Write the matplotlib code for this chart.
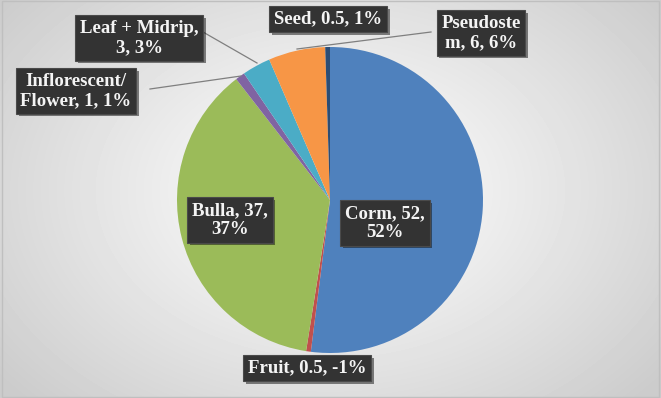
import matplotlib
matplotlib.use("Agg")
import matplotlib.pyplot as plt
import matplotlib.patheffects as pe
import numpy as np

# slice data, clockwise from 12 o'clock
categories = ["Corm", "Fruit", "Bulla", "Inflorescent/Flower", "Leaf + Midrip", "Pseudostem", "Seed"]
values = [52, 0.5, 37, 1, 3, 6, 0.5]
pct_labels = ["52%", "-1%", "37%", "1%", "3%", "6%", "1%"]
label_text = ["Corm, 52,\n52%", "Fruit, 0.5, -1%", "Bulla, 37,\n37%", "Inflorescent/\nFlower, 1, 1%",
              "Leaf + Midrip,\n3, 3%", "Pseudoste\nm, 6, 6%", "Seed, 0.5, 1%"]
colors = ["#4F81BD", "#C0504D", "#9BBB59", "#8064A2", "#4BACC6", "#F79646", "#2C4D75"]

W, H = 661, 398
fig = plt.figure(figsize=(W / 100, H / 100), dpi=100)

# radial gradient background
bg = fig.add_axes([0, 0, 1, 1])
yy, xx = np.mgrid[0:H, 0:W]
d = np.sqrt(((xx - 330) / 420.0) ** 2 + ((yy - 190) / 300.0) ** 2)
shade = 1.0 - 0.2 * np.clip(d, 0, 1) ** 1.1
bg.imshow(shade, cmap="gray", vmin=0, vmax=1, extent=[0, W, 0, H], aspect="auto")
bg.set_axis_off()

ax = fig.add_axes([0, 0, 1, 1])
ax.patch.set_alpha(0)

cx, cy, r = 330, H - 200, 153
ax.pie(values, colors=colors, startangle=90, counterclock=False,
       center=(cx, cy), radius=r, wedgeprops=dict(linewidth=0))
ax.set_xlim(0, W)
ax.set_ylim(0, H)
ax.set_aspect("equal")
ax.set_axis_off()

# label centres (pixels from top-left)
label_pos = [(385, 223), (307, 368), (230, 220), (76, 91), (139, 38), (481, 33), (328, 19)]
# leader lines: (box end, slice edge)
leaders = {3: [(150, 89), (241, 76)], 4: [(203, 32), (257, 63)], 5: [(431, 32), (297, 49)]}

for i, pts in leaders.items():
    ax.plot([p[0] for p in pts], [H - p[1] for p in pts], color="#7f7f7f", lw=0.9)

for txt, (x, y) in zip(label_text, label_pos):
    t = ax.text(x, H - y, txt, ha="center", va="center", color="#f4f4f4",
                fontsize=13.5, fontweight="bold", family="Liberation Serif",
                linespacing=1.15,
                bbox=dict(boxstyle="square,pad=0.25", fc="#333333", ec="#4a4a4a", lw=0.8))
    t.get_bbox_patch().set_path_effects([pe.SimplePatchShadow(offset=(2, -2), alpha=0.5),
                                         pe.Normal()])

# outer frame
fig.patches.append(plt.Rectangle((0.003, 0.003), 0.994, 0.994, transform=fig.transFigure,
                                 fill=False, ec="#bfbfbf", lw=1))

fig.savefig("out.png", dpi=100)
